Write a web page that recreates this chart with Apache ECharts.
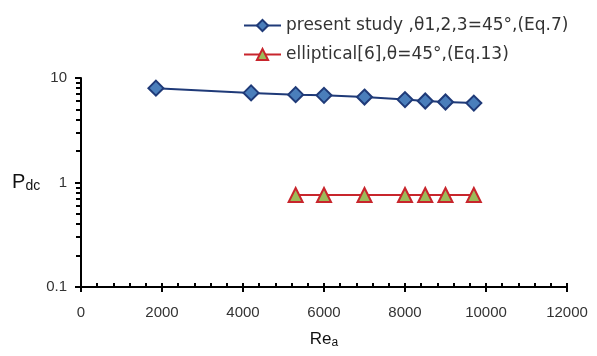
<!DOCTYPE html>
<html><head><meta charset="utf-8">
<script src="https://cdn.jsdelivr.net/npm/echarts@6/dist/echarts.min.js"></script>
<style>html,body{margin:0;padding:0;background:#fff}#c{width:597px;height:356px}</style>
</head><body><div id="c"></div>
<script>
const presentRe = [1850, 4200, 5300, 6000, 7000, 8000, 8500, 9000, 9700];
const presentPdc = [8.0, 7.2, 6.93, 6.82, 6.57, 6.21, 6.02, 5.89, 5.75];
const ellipRe = [5300, 6000, 7000, 8000, 8500, 9000, 9700];
const ellipPdc = [0.76, 0.76, 0.76, 0.76, 0.76, 0.76, 0.76];
const seriesNames = ['present study ,\u03b81,2,3=45\u00b0,(Eq.7)', 'elliptical[6],\u03b8=45\u00b0,(Eq.13)'];
const yMinorTicks = [0.2,0.3,0.4,0.5,0.6,0.7,0.8,0.9,2,3,4,5,6,7,8,9];

const FONT = 'Liberation Sans';
const chart = echarts.init(document.getElementById('c'));
const axisLine = {show: true, onZero: false, lineStyle: {color: '#000', width: 2}};
const hiddenLine = {show: true, onZero: false, lineStyle: {color: '#000', width: 2, opacity: 0}};
chart.setOption({
  animation: false,
  textStyle: {fontFamily: FONT},
  grid: {left: 81, right: 30, top: 78, bottom: 69},
  legend: {
    orient: 'vertical', left: 238, top: 12, itemWidth: 37, itemHeight: 14, itemGap: 12,
    textStyle: {fontFamily: 'DejaVu Sans', fontSize: 17, color: '#333'},
    data: seriesNames
  },
  xAxis: [{
    type: 'value', min: 0, max: 12000, interval: 2000,
    axisLine: axisLine,
    axisTick: {show: true, inside: true, length: 4, lineStyle: {color: '#000', width: 2}},
    minorTick: {show: true, splitNumber: 5, length: 4, lineStyle: {color: '#000', width: 2}},
    splitLine: {show: false},
    axisLabel: {fontFamily: FONT, fontSize: 15, color: '#333', margin: 18, formatter: v => String(v)},
    name: '{b|Re}{s|a}', nameLocation: 'middle', nameGap: 42,
    nameTextStyle: {rich: {b: {fontSize: 17, color: '#111', fontFamily: FONT}, s: {fontSize: 12, color: '#111', fontFamily: FONT, verticalAlign: 'bottom', padding: [8,0,0,0]}}}
  }, {
    type: 'value', min: 0, max: 12000, interval: 2000, position: 'bottom',
    axisLine: hiddenLine,
    axisTick: {show: true, inside: false, length: 5, lineStyle: {color: '#000', width: 2}},
    axisLabel: {show: false}, splitLine: {show: false}
  }],
  yAxis: [{
    type: 'log', logBase: 10, min: 0.1, max: 10,
    axisLine: axisLine,
    axisTick: {show: true, inside: false, length: 6, lineStyle: {color: '#000', width: 2}},
    splitLine: {show: false},
    axisLabel: {fontFamily: FONT, fontSize: 15, color: '#333', margin: 14, formatter: v => String(v)},
    name: '{b|P}{s|dc}', nameLocation: 'middle', nameGap: 36, nameRotate: 0,
    nameTextStyle: {rich: {b: {fontSize: 20, color: '#111', fontFamily: FONT}, s: {fontSize: 14, color: '#111', fontFamily: FONT, padding: [8,0,0,0]}}}
  }, {
    type: 'value', min: -1, max: 1, position: 'left',
    axisLine: hiddenLine,
    axisTick: {show: true, inside: false, length: 5, customValues: yMinorTicks.map(Math.log10), lineStyle: {color: '#000', width: 2}},
    axisLabel: {show: false, customValues: yMinorTicks.map(Math.log10)}, splitLine: {show: false}
  }],
  series: [{
    name: seriesNames[0], type: 'line',
    data: presentRe.map((x, i) => [x, presentPdc[i]]),
    symbol: 'diamond', symbolSize: 15,
    lineStyle: {color: '#1F3A78', width: 2},
    itemStyle: {color: '#4A7EBB', borderColor: '#1F3A78', borderWidth: 2}
  }, {
    name: seriesNames[1], type: 'line',
    data: ellipRe.map((x, i) => [x, ellipPdc[i]]),
    symbol: 'triangle', symbolSize: 14,
    lineStyle: {color: '#C8252C', width: 2},
    itemStyle: {color: '#9BBB59', borderColor: '#C8252C', borderWidth: 2}
  }]
});
</script></body></html>
